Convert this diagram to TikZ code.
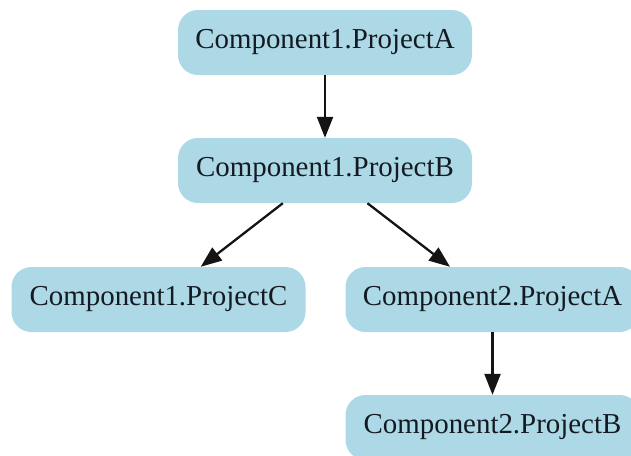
\documentclass[tikz,border=0pt]{standalone}
\usepackage{fontspec}
\setmainfont{Liberation Serif}
\usetikzlibrary{arrows.meta}
\definecolor{boxfill}{HTML}{ADD8E6}
\definecolor{inkdark}{HTML}{141A22}
\tikzset{
  proj/.style={rectangle, rounded corners=20pt, fill=boxfill, draw=none,
    minimum width=294pt, minimum height=65pt, inner sep=0pt,
    text=inkdark, font=\fontsize{28.9pt}{32pt}\selectfont},
  dep/.style={draw=black!92, line width=2.3pt,
    -{Triangle[length=21pt, width=16pt]}}
}
\begin{document}
\begin{tikzpicture}[x=1pt, y=-1pt]
  \useasboundingbox (0,0) rectangle (631,455);
  \node[proj] (c1a) at (325,42.5)   {Component1.ProjectA};
  \node[proj] (c1b) at (325,170.5)  {Component1.ProjectB};
  \node[proj] (c1c) at (158.5,299.5) {Component1.ProjectC};
  \node[proj] (c2a) at (492.5,299.5) {Component2.ProjectA};
  \node[proj] (c2b) at (492.5,427.5) {Component2.ProjectB};
  \draw[dep] (c1a) -- (c1b);
  \draw[dep] (c1b) -- (c1c);
  \draw[dep] (c1b) -- (c2a);
  \draw[dep] (c2a) -- (c2b);
\end{tikzpicture}
\end{document}
